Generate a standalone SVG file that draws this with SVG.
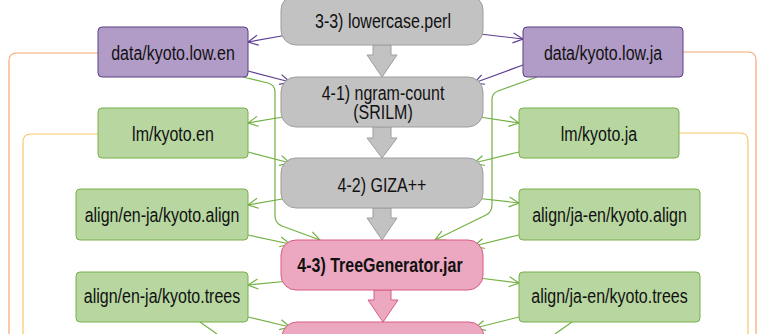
<svg xmlns="http://www.w3.org/2000/svg" width="757" height="334" viewBox="0 0 757 334">
  <style>
    .lbl { font-family: "Liberation Sans", Arial, sans-serif; font-size: 16px; text-anchor: middle; fill: #111; }
    .bold { font-weight: bold; }
    .proc { fill: #C2C2C2; stroke: #9E9E9E; stroke-width: 1; }
    .proc-pink { fill: #EDA8C1; stroke: #D85B83; stroke-width: 1; }
    .data-purple { fill: #B19CC7; stroke: #5A3E84; stroke-width: 1; }
    .data-green { fill: #B7D6A0; stroke: #78B04A; stroke-width: 1; }
    .blk { fill: #C2C2C2; stroke: #9E9E9E; stroke-width: 1; }
    .blk-pink { fill: #EDA8C1; stroke: #D85B83; stroke-width: 1; }
    .c-purple { fill: none; stroke: #5E3F93; stroke-width: 1.2; marker-end: url(#ah-purple); }
    .c-green { fill: none; stroke: #72B043; stroke-width: 1.2; marker-end: url(#ah-green); }
    .c-green-plain { fill: none; stroke: #72B043; stroke-width: 1.2; }
    .c-orange { fill: none; stroke: #F5A673; stroke-width: 1.2; }
    .c-yellow { fill: none; stroke: #F8C767; stroke-width: 1.2; }
  </style>
  <defs>
    <marker id="ah-purple" markerUnits="userSpaceOnUse" markerWidth="12" markerHeight="12" viewBox="0 0 12 12" refX="11" refY="6" orient="auto">
      <path d="M1,1 L11,6 L1,11" fill="none" stroke="#5E3F93" stroke-width="1.2"/>
    </marker>
    <marker id="ah-green" markerUnits="userSpaceOnUse" markerWidth="12" markerHeight="12" viewBox="0 0 12 12" refX="11" refY="6" orient="auto">
      <path d="M1,1 L11,6 L1,11" fill="none" stroke="#72B043" stroke-width="1.2"/>
    </marker>
  </defs>

  <rect width="757" height="334" fill="#FFFFFF"/>

  <!-- long side routes to later stages -->
  <g id="connectors">
    <path class="c-orange" d="M98,53 L17,53 Q9,53 9,61 L9,334"/>
    <path class="c-yellow" d="M98,134 L31,134 Q23,134 23,142 L23,334"/>
    <path class="c-orange" d="M683,52 L748,52 Q756,52 756,60 L756,334"/>
    <path class="c-yellow" d="M679,133 L740,133 Q748,133 748,141 L748,334"/>

    <path class="c-purple" d="M287,35 L248,42"/>
    <path class="c-purple" d="M248,71 L290,82"/>
    <path class="c-purple" d="M480,34 L523,39"/>
    <path class="c-purple" d="M523,65 L474,83"/>

    <path class="c-green" d="M283,117 L248,123"/>
    <path class="c-green" d="M248,152 L290,163"/>
    <path class="c-green" d="M480,117 L519,123"/>
    <path class="c-green" d="M519,152 L474,163"/>
    <path class="c-green" d="M288,198 L248,205"/>
    <path class="c-green" d="M248,235 L290,244"/>
    <path class="c-green" d="M475,198 L519,203"/>
    <path class="c-green" d="M519,235 L474,246"/>
    <path class="c-green" d="M289,281 L248,285"/>
    <path class="c-green" d="M248,317 L290,327"/>
    <path class="c-green" d="M479,278 L519,283"/>
    <path class="c-green" d="M519,317 L475,328"/>
    <path class="c-green-plain" d="M200,322 L217,334"/>
    <path class="c-green-plain" d="M572,322 L555,334"/>

    <path class="c-green" d="M243,77 L268,83 Q275,85 275,92 L275,216 Q275,223 282,226 L320,240"/>
    <path class="c-green" d="M537,77 L498,91 Q492,93 492,100 L492,205 Q492,212 486,215 L435,240"/>
  </g>

  <!-- block arrows between stages -->
  <g id="flow-arrows">
    <polygon class="blk" points="373,45 391,45 391,55 397,55 382,77 367,55 373,55"/>
    <polygon class="blk" points="373,127 391,127 391,138 397,138 382,158 367,138 373,138"/>
    <polygon class="blk" points="373,208 391,208 391,218 397,218 382,240 367,218 373,218"/>
    <polygon class="blk-pink" points="374,290 391,290 391,300 398,300 383,322 368,300 374,300"/>
  </g>

  <g id="lowercase">
    <rect class="proc" x="281" y="-5" width="202" height="50" rx="15"/>
    <text class="lbl" transform="matrix(1 0 0 1.3 383 28)">3-3) lowercase.perl</text>
  </g>
  <g id="ngram">
    <rect class="proc" x="281" y="77" width="202" height="50" rx="15"/>
    <text class="lbl" transform="matrix(1 0 0 1.3 383 100)">4-1) ngram-count</text>
    <text class="lbl" transform="matrix(1 0 0 1.3 383 119)">(SRILM)</text>
  </g>
  <g id="giza">
    <rect class="proc" x="281" y="158" width="202" height="50" rx="15"/>
    <text class="lbl" transform="matrix(1 0 0 1.3 382 192)">4-2) GIZA++</text>
  </g>
  <g id="treegen">
    <rect class="proc-pink" x="281" y="240" width="202" height="50" rx="15"/>
    <text class="lbl bold" transform="matrix(1 0 0 1.3 380 272)">4-3) TreeGenerator.jar</text>
  </g>
  <g id="next-stage">
    <rect class="proc-pink" x="282" y="322" width="202" height="50" rx="15"/>
  </g>

  <g id="low-en">
    <rect class="data-purple" x="98" y="27" width="150" height="50" rx="4"/>
    <text class="lbl" transform="matrix(1 0 0 1.3 173 60)">data/kyoto.low.en</text>
  </g>
  <g id="low-ja">
    <rect class="data-purple" x="523" y="27" width="160" height="50" rx="4"/>
    <text class="lbl" transform="matrix(1 0 0 1.3 603 60)">data/kyoto.low.ja</text>
  </g>
  <g id="lm-en">
    <rect class="data-green" x="98" y="108" width="150" height="50" rx="4"/>
    <text class="lbl" transform="matrix(1 0 0 1.3 173 141)">lm/kyoto.en</text>
  </g>
  <g id="lm-ja">
    <rect class="data-green" x="519" y="108" width="160" height="50" rx="4"/>
    <text class="lbl" transform="matrix(1 0 0 1.3 599 141)">lm/kyoto.ja</text>
  </g>
  <g id="align-en-ja">
    <rect class="data-green" x="76" y="189" width="172" height="51" rx="4"/>
    <text class="lbl" transform="matrix(1 0 0 1.3 162 222)">align/en-ja/kyoto.align</text>
  </g>
  <g id="align-ja-en">
    <rect class="data-green" x="519" y="189" width="181" height="51" rx="4"/>
    <text class="lbl" transform="matrix(1 0 0 1.3 609.5 222)">align/ja-en/kyoto.align</text>
  </g>
  <g id="trees-en-ja">
    <rect class="data-green" x="76" y="272" width="172" height="50" rx="4"/>
    <text class="lbl" transform="matrix(1 0 0 1.3 162 303)">align/en-ja/kyoto.trees</text>
  </g>
  <g id="trees-ja-en">
    <rect class="data-green" x="519" y="272" width="181" height="50" rx="4"/>
    <text class="lbl" transform="matrix(1 0 0 1.3 609.5 303)">align/ja-en/kyoto.trees</text>
  </g>
</svg>
